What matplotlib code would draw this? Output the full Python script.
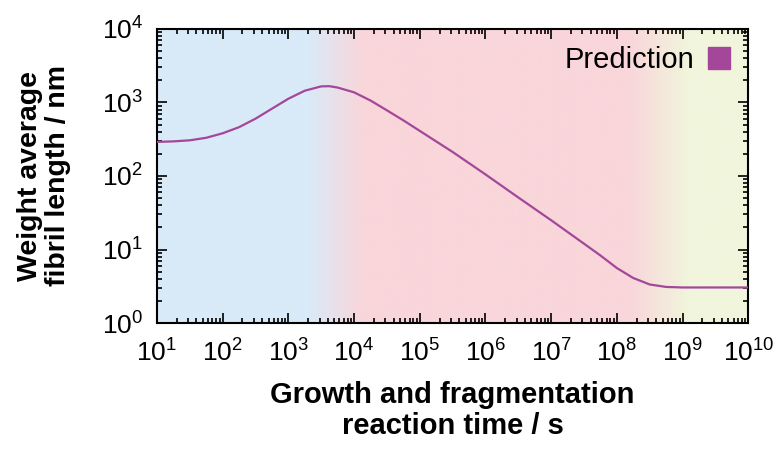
import matplotlib
matplotlib.use("Agg")
import matplotlib.pyplot as plt
import numpy as np
from matplotlib.colors import to_rgb
from matplotlib.ticker import LogLocator, NullFormatter

plt.rcParams["font.family"] = ["Liberation Sans", "DejaVu Sans"]
plt.rcParams["mathtext.fontset"] = "custom"
plt.rcParams["mathtext.rm"] = "Liberation Sans"
plt.rcParams["mathtext.it"] = "Liberation Sans:italic"
plt.rcParams["mathtext.bf"] = "Liberation Sans:bold"
plt.rcParams["mathtext.default"] = "regular"

# prediction curve (log10 of time in s, length in nm)
log_time = [1.0, 1.25, 1.5, 1.75, 2.0, 2.25, 2.5, 2.75, 3.0, 3.25, 3.5, 3.625,
            3.75, 4.0, 4.25, 4.5, 4.75, 5.0, 5.5, 6.0, 6.5, 7.0, 7.5, 7.75,
            8.0, 8.25, 8.5, 8.75, 9.0, 10.0]
length_nm = [290, 295, 305, 330, 380, 460, 600, 820, 1120, 1440, 1650, 1660,
             1590, 1370, 1060, 780, 570, 410, 212, 105, 51, 25, 12, 8.3,
             5.6, 4.1, 3.35, 3.1, 3.05, 3.05]

# background regimes: transition edges in log10 time and colours
regime_edges = [3.3, 4.14, 8.2, 9.07]
regime_colors = ["#d9eaf8", "#f9d6da", "#f1f5dc"]

purple = "#a4479a"

fig = plt.figure(figsize=(7.73, 4.5), dpi=100)
ax = fig.add_axes([0.203, 0.282, 0.765, 0.654])

ax.set_xscale("log")
ax.set_yscale("log")
ax.set_xlim(1e1, 1e10)
ax.set_ylim(1e0, 1e4)

# gradient background, column colours along log time
cols = np.linspace(1, 10, 900)
c_blue, c_pink, c_yel = (np.array(to_rgb(c)) for c in regime_colors)
t1 = np.clip((cols - regime_edges[0]) / (regime_edges[1] - regime_edges[0]), 0, 1)
t2 = np.clip((cols - regime_edges[2]) / (regime_edges[3] - regime_edges[2]), 0, 1)
rgb = c_blue[None] * (1 - t1)[:, None] + c_pink[None] * t1[:, None]
rgb = rgb * (1 - t2)[:, None] + c_yel[None] * t2[:, None]
ax.imshow(rgb[None, :, :], extent=[0, 1, 0, 1], transform=ax.transAxes,
          aspect="auto", zorder=0, interpolation="bilinear")

t = [10 ** v for v in log_time]
ax.plot(t, length_nm, color=purple, lw=1.6, zorder=3)
ax.plot([], [], "s", color=purple, ms=16, label="Prediction")

ax.legend(loc="upper right", markerfirst=False, frameon=False,
          fontsize=21, handlelength=0.8, handletextpad=0.45,
          borderaxespad=0.2, bbox_to_anchor=(1.0, 1.0))

ax.xaxis.set_major_locator(LogLocator(base=10, numticks=20))
ax.yaxis.set_major_locator(LogLocator(base=10, numticks=20))
ax.xaxis.set_minor_locator(LogLocator(base=10, subs=np.arange(2, 10), numticks=20))
ax.yaxis.set_minor_locator(LogLocator(base=10, subs=np.arange(2, 10), numticks=20))
ax.xaxis.set_minor_formatter(NullFormatter())
ax.yaxis.set_minor_formatter(NullFormatter())

ax.tick_params(which="both", direction="in", top=True, right=True, width=1.2)
ax.tick_params(which="major", length=7, labelsize=19)
ax.tick_params(axis="x", which="major", pad=12)
ax.tick_params(axis="y", which="major", pad=10)
ax.tick_params(which="minor", length=3.5)
for s in ax.spines.values():
    s.set_linewidth(1.5)

ax.set_xlabel("Growth and fragmentation\nreaction time / s", fontsize=21,
              fontweight="bold", labelpad=10, linespacing=1.15)
ax.set_ylabel("Weight average\nfibril length / nm", fontsize=20.5,
              fontweight="bold", labelpad=22, linespacing=1.1)

fig.savefig("out.png", dpi=100)
